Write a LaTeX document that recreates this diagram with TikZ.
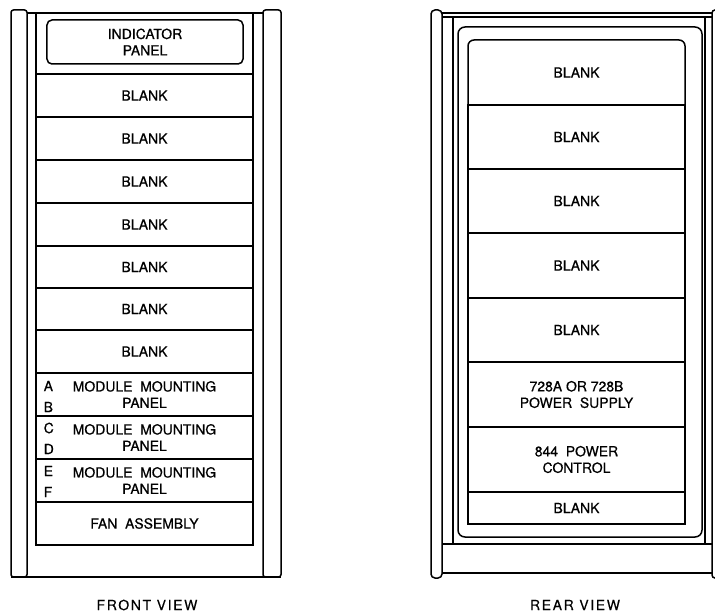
\documentclass[tikz,border=0pt]{standalone}
\usepackage{fontspec}
\setmainfont{TeX Gyre Heros}[FakeBold=0.6]
\newfontfamily\spacedfont{TeX Gyre Heros}[LetterSpace=12,FakeBold=0.3]
\newcommand{\lblfont}{\fontsize{14}{16.5}\selectfont}
\begin{document}
\begin{tikzpicture}[x=1bp,y=-1bp,line width=1.5bp,
  panel/.style={draw,minimum width=217bp,inner sep=0pt,outer sep=0pt,align=center,font=\lblfont},
  lab/.style={inner sep=0pt,anchor=west,font=\lblfont},
  title/.style={inner sep=0pt,font=\spacedfont\lblfont}]
\useasboundingbox (0,0) rectangle (715,614);
% ---------- FRONT VIEW ----------
\draw[rounded corners=2.5] (11,10) rectangle (27,577);
\draw[rounded corners=2.5] (263,10) rectangle (281,577);
\draw (27,13) -- (263,13);
\draw (11,577) -- (281,577);
\draw (36,13) -- (36,74);
\draw (253,13) -- (253,74);
\node[draw,rounded corners=5,minimum width=196bp,minimum height=44bp,inner sep=0pt,align=center,font=\lblfont] (ind) at (145,42) {INDICATOR\\PANEL};
\node[panel,minimum height=43bp] (f1) at (144.5,95.5) {BLANK};
\node[panel,minimum height=43bp] (f2) at (144.5,138.5) {BLANK};
\node[panel,minimum height=43bp] (f3) at (144.5,181.5) {BLANK};
\node[panel,minimum height=43bp] (f4) at (144.5,224.5) {BLANK};
\node[panel,minimum height=42bp] (f5) at (144.5,267) {BLANK};
\node[panel,minimum height=42bp] (f6) at (144.5,309) {BLANK};
\node[panel,minimum height=43bp] (f7) at (144.5,351.5) {BLANK};
\node[panel,minimum height=43bp] (m1) at (144.5,394.5) {MODULE\ \ MOUNTING\\PANEL};
\node[panel,minimum height=43bp] (m2) at (144.5,437.5) {MODULE\ \ MOUNTING\\PANEL};
\node[panel,minimum height=43bp] (m3) at (144.5,480.5) {MODULE\ \ MOUNTING\\PANEL};
\node[panel,minimum height=43bp] (fan) at (144.5,523.5) {FAN\ \ ASSEMBLY};
\node[lab] (la) at (43,386) {A};
\node[lab] (lb) at (43,407) {B};
\node[lab] (lc) at (43,428) {C};
\node[lab] (ld) at (43,449) {D};
\node[lab] (le) at (43,471) {E};
\node[lab] (lf) at (43,492) {F};
\node[title] (ftitle) at (147,605) {FRONT VIEW};
% ---------- REAR VIEW ----------
\draw[rounded corners=4] (431,10) rectangle (442,578);
\draw[rounded corners=3] (712,10) rectangle (722,578);
\draw (442,13) -- (712,13);
\draw (442,17) -- (712,17);
\draw (453,17) -- (453,544);
\draw (705,17) -- (705,544);
\draw (442,544) -- (712,544);
\draw (442,573) -- (712,573);
\draw[rounded corners=7] (458,27) rectangle (702,537);
\node[inner sep=0pt,outer sep=0pt,minimum width=217bp,minimum height=65bp,font=\lblfont] (r1) at (576.5,72.5) {BLANK};
\draw[rounded corners=6] (r1.south west) -- (r1.north west) -- (r1.north east) -- (r1.south east);
\node[panel,minimum height=64bp] (r2) at (576.5,137) {BLANK};
\node[panel,minimum height=64bp] (r3) at (576.5,201) {BLANK};
\node[panel,minimum height=65bp] (r4) at (576.5,265.5) {BLANK};
\node[panel,minimum height=64bp] (r5) at (576.5,330) {BLANK};
\node[panel,minimum height=65bp] (r6) at (576.5,394.5) {728A OR 728B\\POWER\ \ SUPPLY};
\node[panel,minimum height=65bp] (r7) at (576.5,459.5) {844\ \ POWER\\CONTROL};
\node[panel,minimum height=32bp] (r8) at (576.5,508) {BLANK};
\node[title] (rtitle) at (575,605) {REAR VIEW};
\end{tikzpicture}
\end{document}
